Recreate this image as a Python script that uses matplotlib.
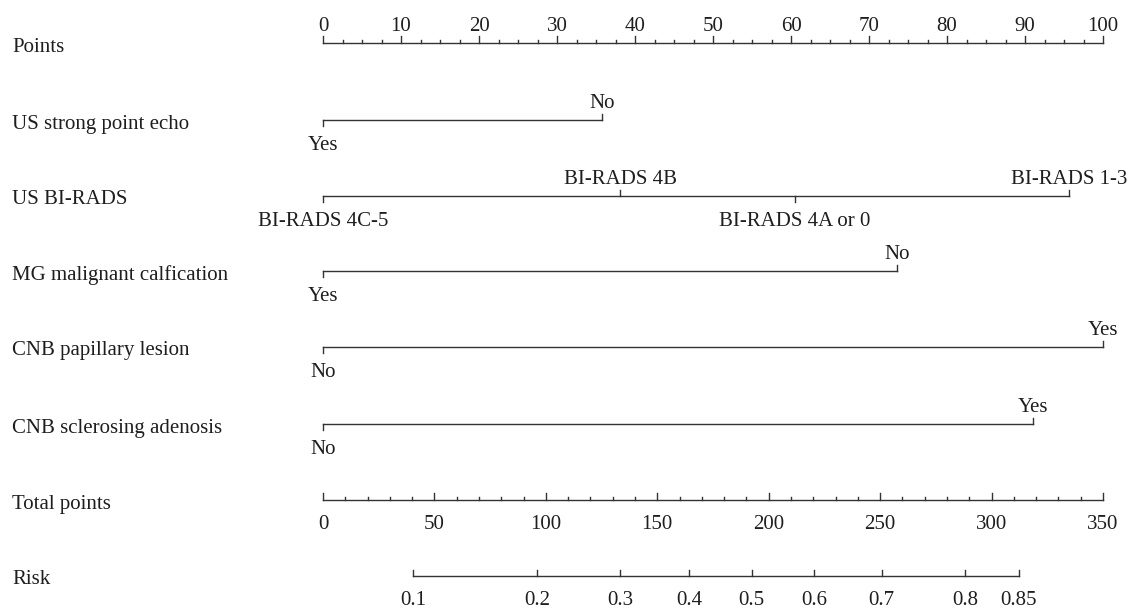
import matplotlib.pyplot as plt

plt.rcParams['font.family'] = ['Liberation Serif', 'DejaVu Serif']

# --- data ---
row_names = ['Points', 'US strong point echo', 'US BI-RADS',
             'MG malignant calfication', 'CNB papillary lesion',
             'CNB sclerosing adenosis', 'Total points', 'Risk']

points_major = list(range(0, 101, 10))

echo_labels = ['Yes', 'No']
echo_points = [0, 35.8]

birads_labels = ['BI-RADS 4C-5', 'BI-RADS 4B', 'BI-RADS 4A or 0', 'BI-RADS 1-3']
birads_points = [0, 38.1, 60.5, 95.7]

mg_labels = ['Yes', 'No']
mg_points = [0, 73.6]

papillary_labels = ['No', 'Yes']
papillary_points = [0, 100]

sclerosing_labels = ['No', 'Yes']
sclerosing_points = [0, 91.0]

total_max = 350
total_major = list(range(0, 351, 50))

risk_labels = ['0.1', '0.2', '0.3', '0.4', '0.5', '0.6', '0.7', '0.8', '0.85']
risk_total = [40.3, 96.2, 133.3, 164.4, 192.4, 220.5, 250.7, 288.1, 312.3]

# --- layout (pixel-like y coordinates) ---
row_y = [43, 120, 196, 271, 347, 424, 500, 576]
line_col = '#333333'
text_col = '#1e1e1e'
fs = 15
lw = 1.0

fig = plt.figure(figsize=(11.29, 6.11), dpi=100)
ax = fig.add_axes([0, 0, 1, 1])
ax.set_xlim(-323 / 7.8, (1129 - 323) / 7.8)
ax.set_ylim(611, 0)
ax.axis('off')

label_x = (12 - 323) / 7.8
for name, y in zip(row_names, row_y):
    ax.text(label_x, y + 4, name, fontsize=fs, color=text_col,
            ha='left', va='center')


def scale_axis(y, positions, labels, minor=None, major_len=7, minor_len=3.5):
    ax.plot([positions[0], positions[-1]], [y, y], color=line_col, lw=lw)
    for p, lab in zip(positions, labels):
        ax.plot([p, p], [y, y - major_len], color=line_col, lw=lw)
        ax.text(p, y + 15, lab, fontsize=fs, color=text_col,
                ha='center', va='top')
    if minor is not None:
        for p in minor:
            ax.plot([p, p], [y, y - minor_len], color=line_col, lw=lw)


def variable_axis(y, positions, labels):
    ax.plot([min(positions), max(positions)], [y, y], color=line_col, lw=lw)
    order = sorted(range(len(positions)), key=lambda i: positions[i])
    for k, i in enumerate(order):
        p = positions[i]
        # labels alternate below / above, starting below at the left end
        if k % 2 == 0:
            ax.plot([p, p], [y, y + 6], color=line_col, lw=lw)
            ax.text(p, y + 16, labels[i], fontsize=fs, color=text_col,
                    ha='center', va='top')
        else:
            ax.plot([p, p], [y, y - 6], color=line_col, lw=lw)
            ax.text(p, y - 7, labels[i], fontsize=fs, color=text_col,
                    ha='center', va='bottom')


# Points
pts_minor = [v / 4 for v in range(0, 401, 10) if v % 40 != 0]
ax.plot([0, 100], [row_y[0]] * 2, color=line_col, lw=lw)
for p in points_major:
    ax.plot([p, p], [row_y[0], row_y[0] - 7], color=line_col, lw=lw)
    ax.text(p, row_y[0] - 7, str(p), fontsize=fs, color=text_col,
            ha='center', va='bottom')
for p in pts_minor:
    ax.plot([p, p], [row_y[0], row_y[0] - 3.5], color=line_col, lw=lw)

variable_axis(row_y[1], echo_points, echo_labels)
variable_axis(row_y[2], birads_points, birads_labels)
variable_axis(row_y[3], mg_points, mg_labels)
variable_axis(row_y[4], papillary_points, papillary_labels)
variable_axis(row_y[5], sclerosing_points, sclerosing_labels)

# Total points
to_pts = 100 / total_max
tot_minor = [v * to_pts for v in range(0, 351, 10) if v % 50 != 0]
scale_axis(row_y[6], [v * to_pts for v in total_major],
           [str(v) for v in total_major], minor=tot_minor)

# Risk
scale_axis(row_y[7], [v * to_pts for v in risk_total], risk_labels,
           major_len=6)

fig.savefig('out.png', dpi=100)
